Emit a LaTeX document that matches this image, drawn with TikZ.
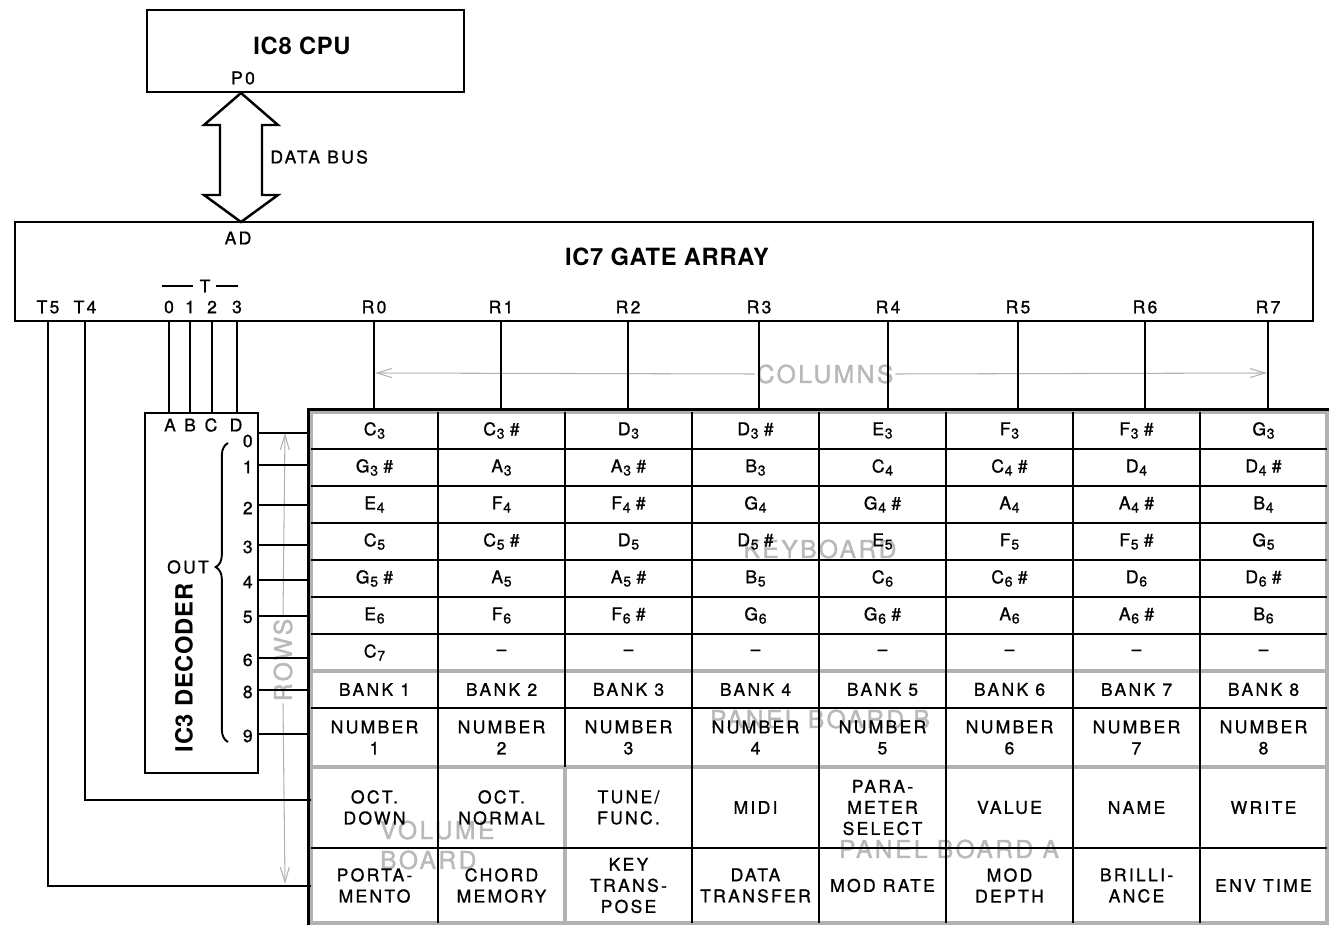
\documentclass[tikz,border=0pt]{standalone}
\usepackage{fontspec}
\setmainfont{TeX Gyre Heros}[LetterSpace=13, FakeBold=1]
\newfontfamily\ttlfont{TeX Gyre Heros}[LetterSpace=3]
\newfontfamily\ghostfont{TeX Gyre Heros}[LetterSpace=10, FakeBold=1.5]
\usepackage{tikz}
\usetikzlibrary{arrows.meta,fit,decorations.pathreplacing}

\newcommand{\nt}[2]{#1\kern0.04em\raisebox{-0.35ex}{\fontsize{8}{8}\selectfont#2}}
\newcommand{\ns}[2]{\nt{#1}{#2}\kern0.3em\#}

\begin{document}
\begin{tikzpicture}[x=0.02cm, y=-0.02cm,
  kbbox/.style={draw=black, line width=1.4pt, inner sep=0pt},
  kbwire/.style={line width=1.4pt},
  kbgrid/.style={line width=0.7pt},
  kbboard/.style={draw=gray!60, line width=2.8pt, inner sep=0pt},
  kbcell/.style={align=center, inner sep=0pt, font=\fontsize{10}{12}\selectfont},
  kbpin/.style={inner sep=0pt, font=\fontsize{10}{12}\selectfont},
  kbtitle/.style={inner sep=0pt, font=\ttlfont\bfseries\fontsize{13.5}{16}\selectfont},
  kbghost/.style={inner sep=1pt, text=gray!55, font=\ghostfont\fontsize{14}{17}\selectfont},
  kbghostarr/.style={draw=gray!60, line width=0.6pt, -{Straight Barb[length=3mm,width=1.8mm]}}
]
\useasboundingbox (0,0) rectangle (1335,925);

% chips
\node[kbbox, fit={(147,10) (464,92)}] (cpu) {};
\node[kbtitle] (cputitle) at (302,46) {IC8 CPU};
\node[kbpin] (p0) at (243,78) {P0};
\node[kbbox, fit={(15,222) (1313,321)}] (ga) {};
\node[kbtitle] (gatitle) at (667,257) {IC7 GATE ARRAY};
\node[kbpin] (ad) at (238,238) {AD};

% data bus
\coordinate (bustop) at (241,93);
\draw[kbwire] (bustop) -- ++(37,32) -- ++(-16,0) -- ++(0,70) -- ++(16,0)
  -- ++(-37,27) -- ++(-37,-27) -- ++(16,0) -- ++(0,-70) -- ++(-16,0) -- cycle;
\node[kbpin, anchor=west] (bus) at (270,157) {DATA BUS};

% boards
\node[kbboard, fit={(311,412) (1327,671)}] (kb) {};
\node[kbboard, fit={(311,671) (1327,767)}] (pbb) {};
\node[kbboard, fit={(311,767) (565,923)}] (vol) {};
\node[kbboard, fit={(565,767) (1327,923)}] (pba) {};

% board labels
\node[kbghost] (columns) at (825,374) {COLUMNS};
\draw[kbghostarr] (columns.west) -- (375,373);
\draw[kbghostarr] (columns.east) -- (1267,373);
\node[kbghost, rotate=90] (rows) at (283,660) {ROWS};
\draw[kbghostarr] (rows.east) -- (285,433);
\draw[kbghostarr] (rows.west) -- (285,884);
\node[kbghost] (kblbl) at (820,549) {KEYBOARD};
\node[kbghost] (pbblbl) at (820,719) {PANEL BOARD B};
\node[kbghost] (pbalbl) at (949,849) {PANEL BOARD A};
\node[kbghost, align=left, anchor=west] (vollbl) at (378,845) {VOLUME\\BOARD};

% grid
\foreach \i in {1,3,4,5,6,7}
  \draw[kbgrid] ({311+127*\i},412) -- ({311+127*\i},923);
\draw[kbgrid] (565,412) -- (565,767);
\foreach \j in {1,...,6}
  \draw[kbgrid] (311,{412+37*\j}) -- (1327,{412+37*\j});
\draw[kbgrid] (311,708) -- (1327,708);
\draw[kbgrid] (311,848) -- (1327,848);
\draw[kbwire] (kb.north east) -- (kb.north west) -- (vol.south west);

% gate array pins
\node[kbpin] (t5) at (48,307) {T5};
\node[kbpin] (t4) at (85,307) {T4};
\foreach \n/\x in {0/169,1/190,2/212,3/237}
  \node[kbpin] (tt\n) at (\x,307) {\n};
\node[kbpin] (tbar) at (205,286) {T};
\draw[line width=0.8pt] (162,286) -- (193,286);
\draw[line width=0.8pt] (216,286) -- (238,286);
\foreach \n/\x in {0/374,1/501,2/628,3/759,4/888,5/1018,6/1145,7/1268} {
  \node[kbpin] (r\n) at (\x,307) {R\n};
  \draw[kbwire] (r\n |- ga.south) -- (r\n |- kb.north);
}

% decoder
\node[kbbox, fit={(145,413) (258,773)}] (dec) {};
\node[kbtitle, rotate=90] (dectitle) at (184,668) {IC3 DECODER};
\foreach \n/\x in {A/170,B/190,C/211,D/236}
  \node[kbpin] (in\n) at (\x,425) {\n};
\foreach \n in {0,...,3}
  \draw[kbwire] (tt\n |- ga.south) -- (tt\n |- dec.north);
\foreach \n/\y/\d in {0/433/8,1/465/2,2/505/3,3/545/2,4/580/2,5/616/1,6/658/2,8/690/2,9/734/2} {
  \coordinate (q\n) at (258,\y);
  \node[kbpin, anchor=east] (o\n) at (253,{\y+\d}) {\n};
  \draw[kbwire] (q\n) -- (q\n -| kb.west);
}
\draw[line width=1.1pt, decorate, decoration={brace, mirror, amplitude=7pt, aspect=0.415}]
  (228,443) -- (228,742);
\node[kbpin] (out) at (188,567) {OUT};

% T5 / T4 to the panel
\coordinate (v5) at (311,886);
\coordinate (v4) at (311,800);
\draw[kbwire] (t5 |- ga.south) |- (v5);
\draw[kbwire] (t4 |- ga.south) |- (v4);

% keyboard keys
\foreach \row [count=\j from 0] in {
  {\nt{C}{3},\ns{C}{3},\nt{D}{3},\ns{D}{3},\nt{E}{3},\nt{F}{3},\ns{F}{3},\nt{G}{3}},
  {\ns{G}{3},\nt{A}{3},\ns{A}{3},\nt{B}{3},\nt{C}{4},\ns{C}{4},\nt{D}{4},\ns{D}{4}},
  {\nt{E}{4},\nt{F}{4},\ns{F}{4},\nt{G}{4},\ns{G}{4},\nt{A}{4},\ns{A}{4},\nt{B}{4}},
  {\nt{C}{5},\ns{C}{5},\nt{D}{5},\ns{D}{5},\nt{E}{5},\nt{F}{5},\ns{F}{5},\nt{G}{5}},
  {\ns{G}{5},\nt{A}{5},\ns{A}{5},\nt{B}{5},\nt{C}{6},\ns{C}{6},\nt{D}{6},\ns{D}{6}},
  {\nt{E}{6},\nt{F}{6},\ns{F}{6},\nt{G}{6},\ns{G}{6},\nt{A}{6},\ns{A}{6},\nt{B}{6}},
  {\nt{C}{7},\textendash,\textendash,\textendash,\textendash,\textendash,\textendash,\textendash}}
  \foreach \txt [count=\i from 0] in \row
    \node[kbcell] (k\j-\i) at ({374.5+127*\i},{430.5+37*\j}) {\txt};

% panel board B
\foreach \k in {1,...,8} {
  \node[kbcell] (bank\k) at ({247.5+127*\k},689.5) {BANK \k};
  \node[kbcell] (num\k) at ({247.5+127*\k},737.5) {NUMBER\\\k};
}

% volume board and panel board A
\foreach \txt [count=\k] in {OCT.\\DOWN,OCT.\\NORMAL,TUNE/\\FUNC.,MIDI,PARA-\\METER\\SELECT,VALUE,NAME,WRITE}
  \node[kbcell] (fa\k) at ({247.5+127*\k},807.5) {\txt};
\foreach \txt [count=\k] in {PORTA-\\MENTO,CHORD\\MEMORY,KEY\\TRANS-\\POSE,DATA\\TRANSFER,MOD RATE,MOD\\DEPTH,BRILLI-\\ANCE,ENV TIME}
  \node[kbcell] (fb\k) at ({247.5+127*\k},885.5) {\txt};
\end{tikzpicture}
\end{document}
